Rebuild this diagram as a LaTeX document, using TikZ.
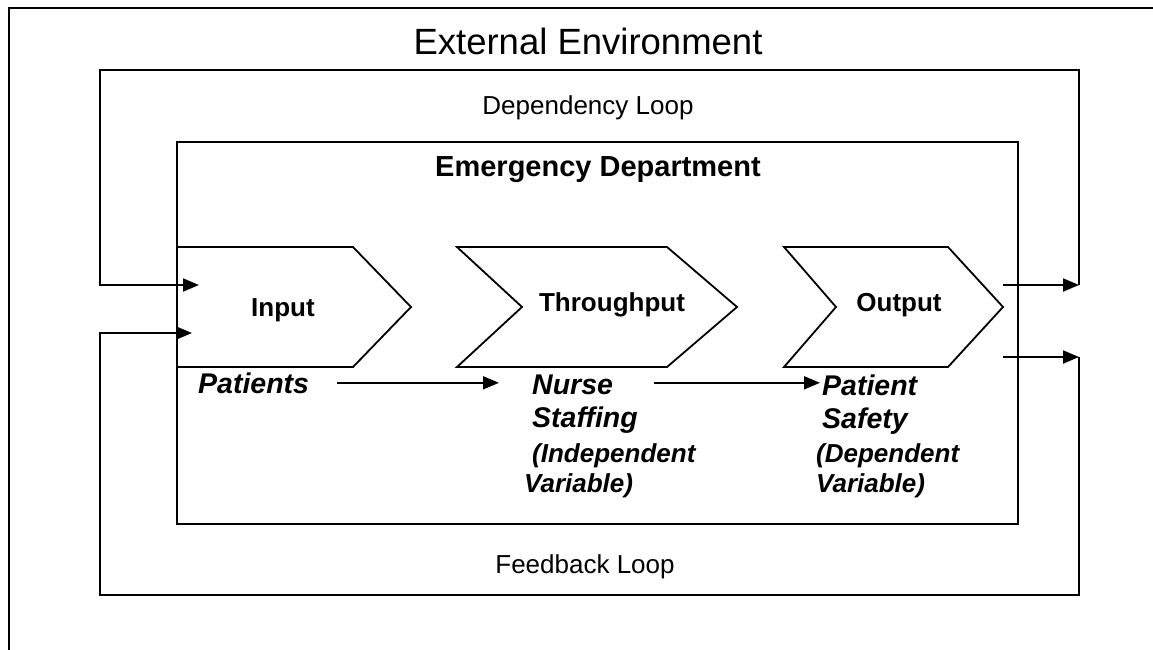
\documentclass[tikz,border=0pt]{standalone}
\usepackage{fontspec}
\setmainfont{Liberation Sans}
\usetikzlibrary{arrows.meta,positioning}

\tikzset{
  loopline/.style={line width=1.8pt},
  flow/.style={line width=1.8pt, -{Triangle[length=16pt,width=13pt]}},
  chevron/.style={line width=1.8pt, line join=miter},
  stagelabel/.style={font=\fontsize{26}{30}\selectfont\bfseries, inner sep=0pt},
  varname/.style={font=\fontsize{28.5}{33}\selectfont\bfseries\itshape, inner sep=0pt, align=left},
  vartype/.style={font=\fontsize{26}{30}\selectfont\bfseries\itshape, inner sep=0pt, align=left},
  looplabel/.style={font=\fontsize{26}{30}\selectfont, inner sep=0pt}
}

\begin{document}
\begin{tikzpicture}[x=1pt,y=-1pt]
\useasboundingbox (0,0) rectangle (1153,650);

% External environment (runs off the page)
\draw[loopline] (9,650) -- (9,8) -- (1153,8);
\node[font=\fontsize{36.5}{40}\selectfont, inner sep=0pt] (extenv) at (588,41) {External Environment};

% Dependency loop
\coordinate (depout) at (1003,285);
\coordinate (depR) at (1079,285);
\coordinate (depTR) at (1079,70);
\coordinate (depTL) at (100,70);
\coordinate (depL) at (100,285);
\coordinate (depin) at (199,285);
\node[looplabel] (deplabel) at (588,108) {Dependency Loop};

% Feedback loop
\coordinate (fbout) at (1003,357);
\coordinate (fbR) at (1079,357);
\coordinate (fbBR) at (1079,595);
\coordinate (fbBL) at (100,595);
\coordinate (fbL) at (100,333);
\coordinate (fbin) at (192,333);
\node[looplabel] (fblabel) at (585,567) {Feedback Loop};

% Emergency department
\draw[loopline] (177,142) rectangle (1018,524);
\node[font=\fontsize{29}{32}\selectfont\bfseries, inner sep=0pt] (edept) at (598,170) {Emergency Department};

% Stages
\draw[chevron] (177,247) -- (353,247) -- (411,307) -- (353,367) -- (177,367);
\draw[chevron] (457,247) -- (667,247) -- (737,307) -- (667,367) -- (457,367) -- (522,307) -- cycle;
\draw[chevron] (784,247) -- (948,247) -- (1003,307) -- (948,367) -- (784,367) -- (836,307) -- cycle;
\node[stagelabel] (input) at (283,310) {Input};
\node[stagelabel] (throughput) at (612,305) {Throughput};
\node[stagelabel] (output) at (899,305) {Output};

% Variables
\node[varname, anchor=base west] (patients) at (198,393) {Patients};
\node[varname, anchor=north west] (nurse) at (532,375) {Nurse\\Staffing};
\node[vartype, anchor=north west] (nursevar) at (532,443) {(Independent\\\hspace*{-8pt}Variable)};
\node[varname, anchor=north west] (safety) at (822,375) {Patient\\Safety};
\node[vartype, anchor=north west] (safetyvar) at (816,443) {(Dependent\\Variable)};

% Connections
\draw[flow] ([xshift=28pt]patients.east) -- ([xshift=-33pt]patients.east -| nurse.west);
\draw[flow] ([xshift=16pt]nurse.east |- patients.east) -- ([xshift=-2pt]safety.west |- patients.east);
\draw[flow] (depout) -- (depR);
\draw[flow] (depR) -- (depTR) -- (depTL) -- (depL) -- (depin);
\draw[flow] (fbout) -- (fbR);
\draw[flow] (fbR) -- (fbBR) -- (fbBL) -- (fbL) -- (fbin);
\end{tikzpicture}
\end{document}
